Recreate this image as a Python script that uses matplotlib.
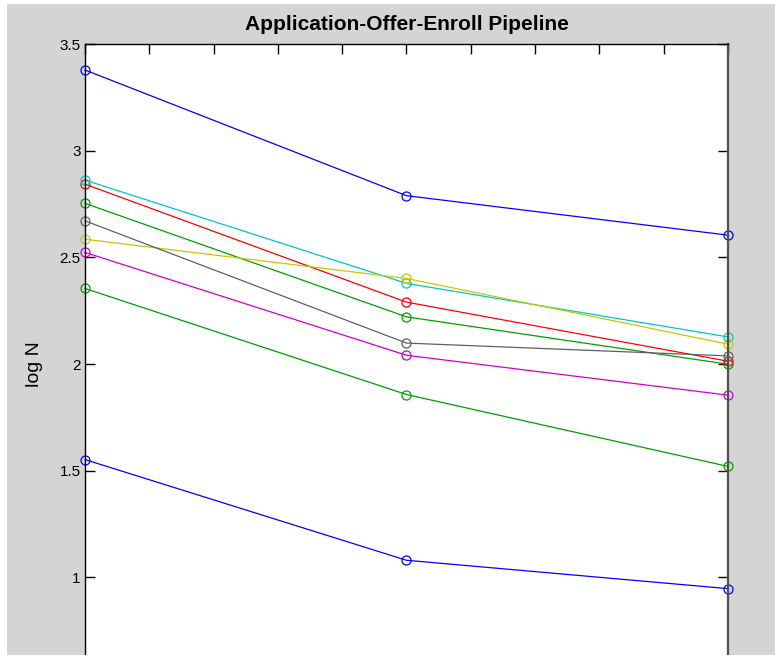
import matplotlib.pyplot as plt
from matplotlib.patches import Rectangle

plt.rcParams['font.family'] = ['Liberation Sans', 'DejaVu Sans']

# stages along the pipeline
stages = [1, 2, 3]

# log10 counts per program: application, offer, enroll
blue_hi = [3.378, 2.789, 2.604]
green_hi = [2.753, 2.221, 1.999]
red = [2.843, 2.290, 2.013]
cyan = [2.862, 2.378, 2.127]
magenta = [2.523, 2.041, 1.854]
yellow = [2.585, 2.401, 2.093]
gray = [2.671, 2.098, 2.038]
blue_lo = [1.552, 1.080, 0.947]
green_lo = [2.354, 1.857, 1.520]

series = [blue_hi, green_hi, red, cyan, magenta, yellow, gray, blue_lo, green_lo]
colors = ['#0000ff', '#00a000', '#ff0000', '#00c8c8', '#d000d0',
          '#c8c800', '#606060', '#0000ff', '#00a000']

W, H = 775, 659
fig = plt.figure(figsize=(W / 100, H / 100), dpi=100, facecolor='white')

# grey figure panel
fig.patches.append(Rectangle((7 / W, 4 / H), 1 - 7 / W, 651 / H,
                             transform=fig.transFigure, facecolor='#d4d4d4',
                             edgecolor='none', zorder=-1))

ax_left, ax_right = 85 / W, 728 / W
ax_top = 1 - 44 / H
ax_bottom = 1 - 684 / H
ax = fig.add_axes([ax_left, ax_bottom, ax_right - ax_left, ax_top - ax_bottom])

for ys, c in zip(series, colors):
    ax.plot(stages, ys, color=c, lw=0.9, marker='o', ms=6.5,
            mfc='none', mec=c, mew=0.9, clip_on=False)

ax.set_xlim(1, 3)
ax.set_ylim(0.5, 3.5)
ax.set_xticks([1 + 0.2 * i for i in range(11)])
ax.set_yticks([1, 1.5, 2, 2.5, 3, 3.5])
ax.set_yticklabels(['1', '1.5', '2', '2.5', '3', '3.5'])
ax.tick_params(axis='both', direction='in', length=7, width=1,
               top=True, right=True, labelsize=11, pad=3)
ax.tick_params(axis='x', labelbottom=False)
for s in ['left', 'top', 'bottom']:
    ax.spines[s].set_linewidth(1)
ax.spines['right'].set_color('#505050')
ax.spines['right'].set_linewidth(1.6)

ax.set_ylabel('log N', fontsize=14, labelpad=12)
ax.set_title('Application-Offer-Enroll Pipeline', fontsize=15,
             fontweight='bold', pad=10)

# cropped lower edge
fig.patches.append(Rectangle((0, 0), 1, 4 / H, transform=fig.transFigure,
                             facecolor='white', edgecolor='none', zorder=10))

fig.savefig('out.png', dpi=100, facecolor='white')
